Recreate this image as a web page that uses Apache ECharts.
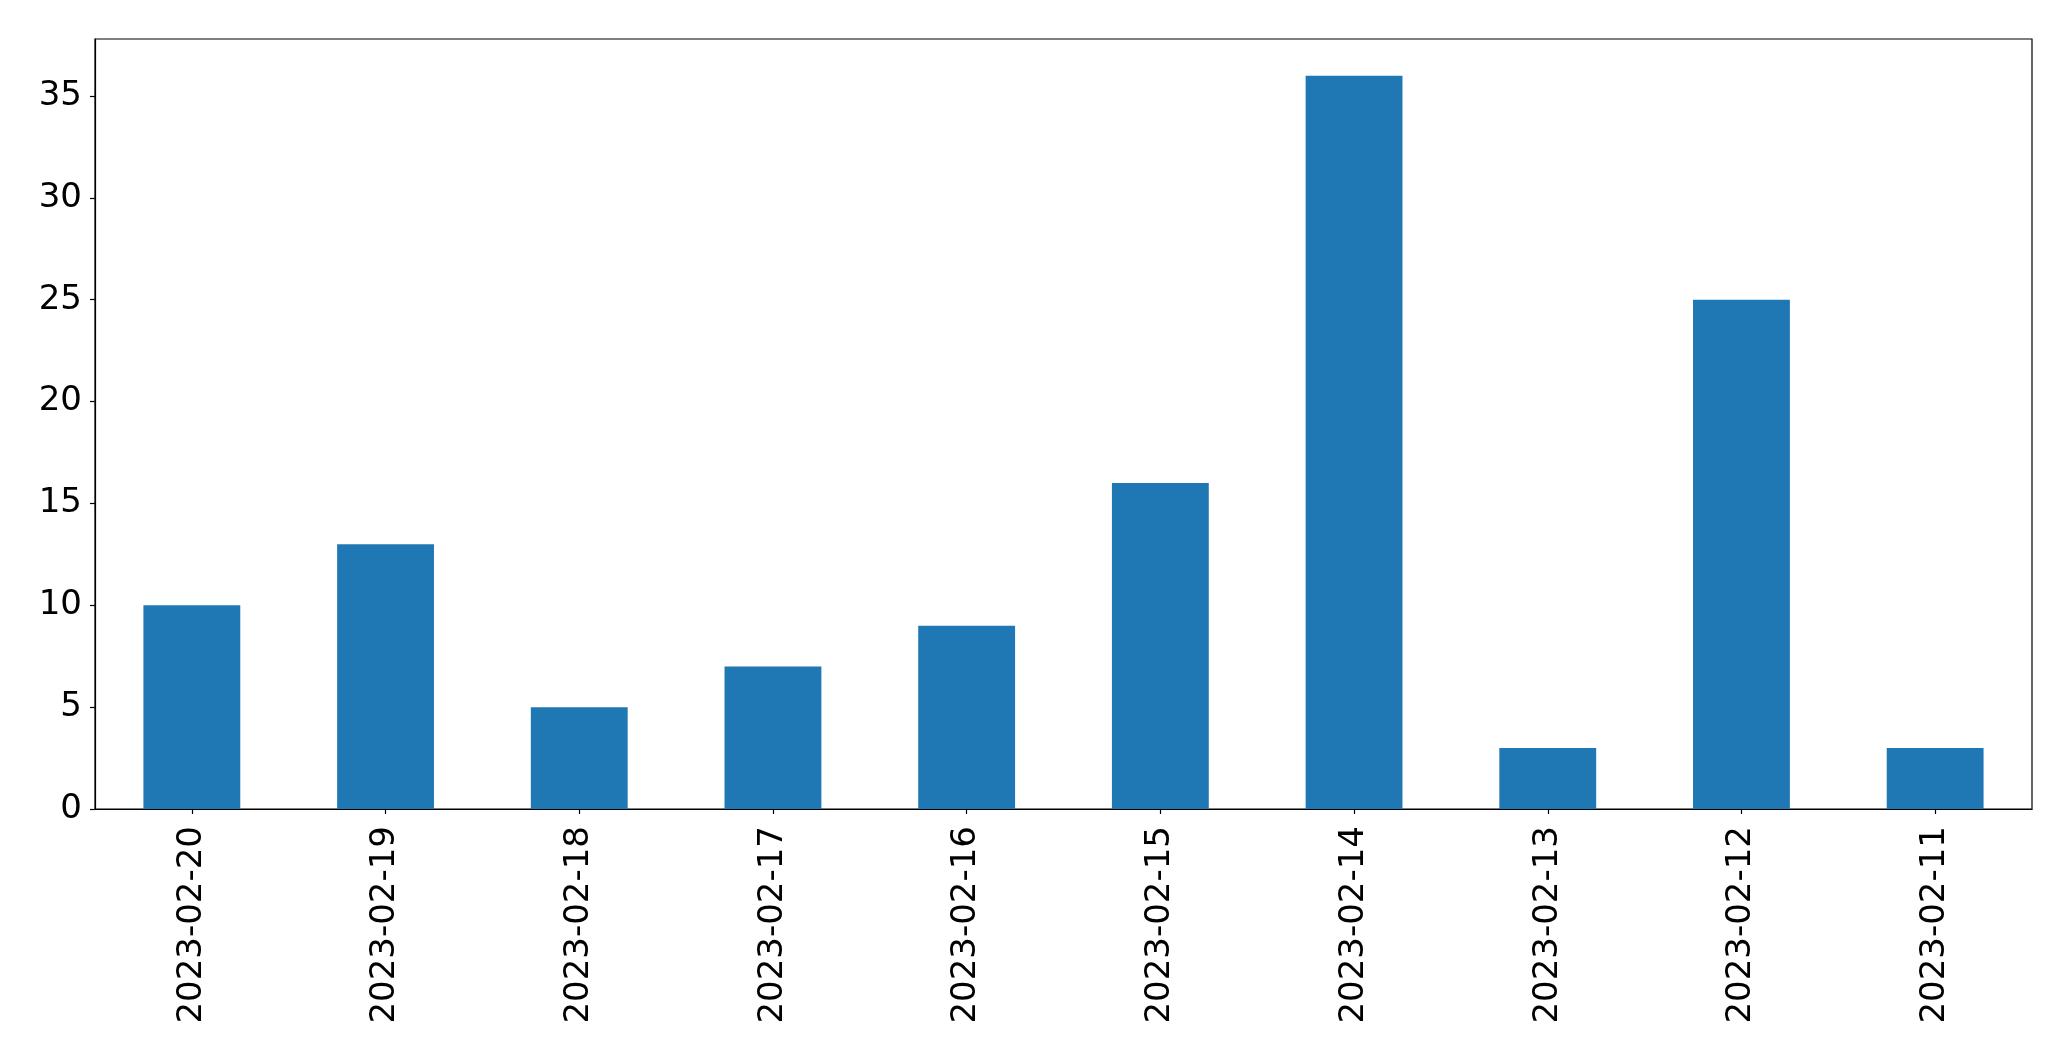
<!DOCTYPE html>
<html>
<head>
<meta charset="utf-8">
<script src="https://cdn.jsdelivr.net/npm/echarts@6/dist/echarts.min.js"></script>
<style>
html,body{margin:0;padding:0;background:#fff;}
#chart{width:2071px;height:1061px;}
</style>
</head>
<body>
<div id="chart"></div>
<script>
const categories = ['2023-02-20','2023-02-19','2023-02-18','2023-02-17','2023-02-16','2023-02-15','2023-02-14','2023-02-13','2023-02-12','2023-02-11'];
const values = [10, 13, 5, 7, 9, 16, 36, 3, 25, 3];
const yTicks = [0, 5, 10, 15, 20, 25, 30, 35];
const yMax = 37.8;

const chart = echarts.init(document.getElementById('chart'), null, {renderer: 'canvas'});
const font = 'DejaVu Sans';
chart.setOption({
  animation: false,
  backgroundColor: '#ffffff',
  grid: {
    left: 95, right: 39, top: 39, bottom: 252,
    show: true, borderColor: '#000', borderWidth: 1.2, backgroundColor: 'transparent'
  },
  xAxis: {
    type: 'category',
    data: categories,
    boundaryGap: true,
    axisLine: {show: true, lineStyle: {color: '#000', width: 1.2}},
    axisTick: {show: true, alignWithLabel: true, length: 5, lineStyle: {color: '#000', width: 1.2}},
    axisLabel: {rotate: 90, margin: 17, fontFamily: font, fontSize: 34, color: '#000', interval: 0},
    splitLine: {show: false}
  },
  yAxis: {
    type: 'value',
    min: 0, max: yMax, interval: 5,
    axisLine: {show: true, lineStyle: {color: '#000', width: 1.2}},
    axisTick: {show: true, length: 5, customValues: yTicks, lineStyle: {color: '#000', width: 1.2}},
    axisLabel: {margin: 13, fontFamily: font, fontSize: 34, color: '#000', customValues: yTicks},
    splitLine: {show: false}
  },
  series: [{
    type: 'bar',
    data: values,
    barWidth: '50%',
    itemStyle: {color: '#1f77b4'}
  }]
});
</script>
</body>
</html>
